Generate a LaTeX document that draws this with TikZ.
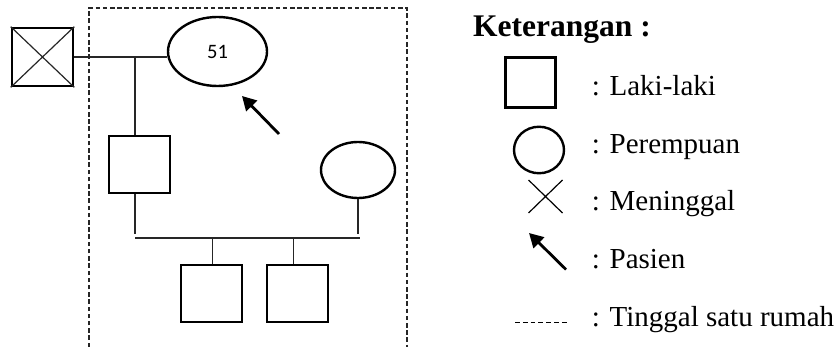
\documentclass[tikz,border=0pt]{standalone}
\usepackage{fontspec}
\setmainfont{Liberation Serif}
\newfontfamily\digitfont{Carlito}
\usetikzlibrary{shapes.geometric,arrows.meta}

\tikzset{
  thinline/.style={line width=1.4pt, draw=black!85},
  malebox/.style={draw, line width=2.7pt, minimum width=61pt, minimum height=57pt, inner sep=0pt},
  femaleoval/.style={ellipse, draw, line width=2.4pt, inner sep=0pt},
  housebox/.style={line width=1.4pt, dash pattern=on 4.5pt off 2.7pt, draw=black!85},
  probandarrow/.style={line width=2.8pt, -{Triangle[length=14pt,width=15pt]}},
  legtext/.style={anchor=base west, inner sep=0pt, font=\fontsize{29}{34}\selectfont},
}

\begin{document}
\begin{tikzpicture}[x=1pt, y=-1pt]
\useasboundingbox (0,0) rectangle (837,347);

% household boundary
\draw[housebox] (89,347) -- (89,8) -- (407,8) -- (407,347);

% generation I
\node[malebox, minimum height=58pt] (gpa) at (42.5,57) {};
\draw[thinline, line width=1.2pt] (gpa.north west) -- (gpa.south east)
                                  (gpa.south west) -- (gpa.north east);
\node[femaleoval, minimum width=99pt, minimum height=69pt,
      font=\digitfont\fontsize{20.5}{24}\selectfont] (gma) at (217.5,51.5) {51};
\coordinate (mar1) at (135,58);
\draw[thinline] (gpa.east) -- (gpa.east -| gma.west);

% generation II
\node[malebox] (son) at (139.5,164.5) {};
\node[femaleoval, minimum width=74pt, minimum height=56pt] (wife) at (358,170) {};
\draw[thinline] (mar1) -- (mar1 |- son.north);

\coordinate (sonend) at (135,234);
\coordinate (wifeend) at (358,234);
\coordinate (barL) at (135,238);
\coordinate (barR) at (360,238);
\draw[thinline] (sonend |- son.south) -- (sonend);
\draw[thinline] (wife.south) -- (wifeend);
\draw[thinline] (barL) -- (barR);

% generation III
\node[malebox] (kid1) at (211.5,293.5) {};
\node[malebox] (kid2) at (297.5,293.5) {};
\coordinate (drop1) at (212.7,238);
\coordinate (drop2) at (293.7,238);
\draw[thinline] (drop1) -- (drop1 |- kid1.north);
\draw[thinline] (drop2) -- (drop2 |- kid2.north);

% proband arrow
\coordinate (pa1) at (279,134);
\coordinate (pa2) at (242,96);
\draw[probandarrow] (pa1) -- (pa2);

% legend
\node[anchor=base west, inner sep=0pt, font=\bfseries\fontsize{31.5}{36}\selectfont]
  (lgtitle) at (473,36.5) {Keterangan :};

\node[draw, line width=2.7pt, minimum width=50pt, minimum height=50pt, inner sep=0pt]
  (lgmale) at (530.7,82.5) {};
\node[legtext] (lgmaletxt) at (591.7,95.7) {: Laki-laki};

\node[ellipse, draw, line width=2.4pt, minimum width=50pt, minimum height=46.5pt, inner sep=0pt]
  (lgfemale) at (539,150) {};
\node[legtext] (lgfemaletxt) at (591.7,154) {: Perempuan};

\coordinate (xa) at (528.5,180);
\coordinate (xb) at (562.5,213);
\draw[line width=1.2pt] (xa) -- (xb) (xa |- xb) -- (xb |- xa);
\node[legtext] (lgdeadtxt) at (591.7,210.7) {: Meninggal};

\coordinate (la1) at (566,269.5);
\coordinate (la2) at (529,233);
\draw[probandarrow] (la1) -- (la2);
\node[legtext] (lgpasientxt) at (591.7,268) {: Pasien};

\coordinate (ld1) at (515,322.3);
\coordinate (ld2) at (569.5,322.3);
\draw[line width=1.3pt, dash pattern=on 4.8pt off 3pt] (ld1) -- (ld2);
\node[legtext] (lghousetxt) at (591.7,326.7) {: Tinggal satu rumah};
\end{tikzpicture}
\end{document}
